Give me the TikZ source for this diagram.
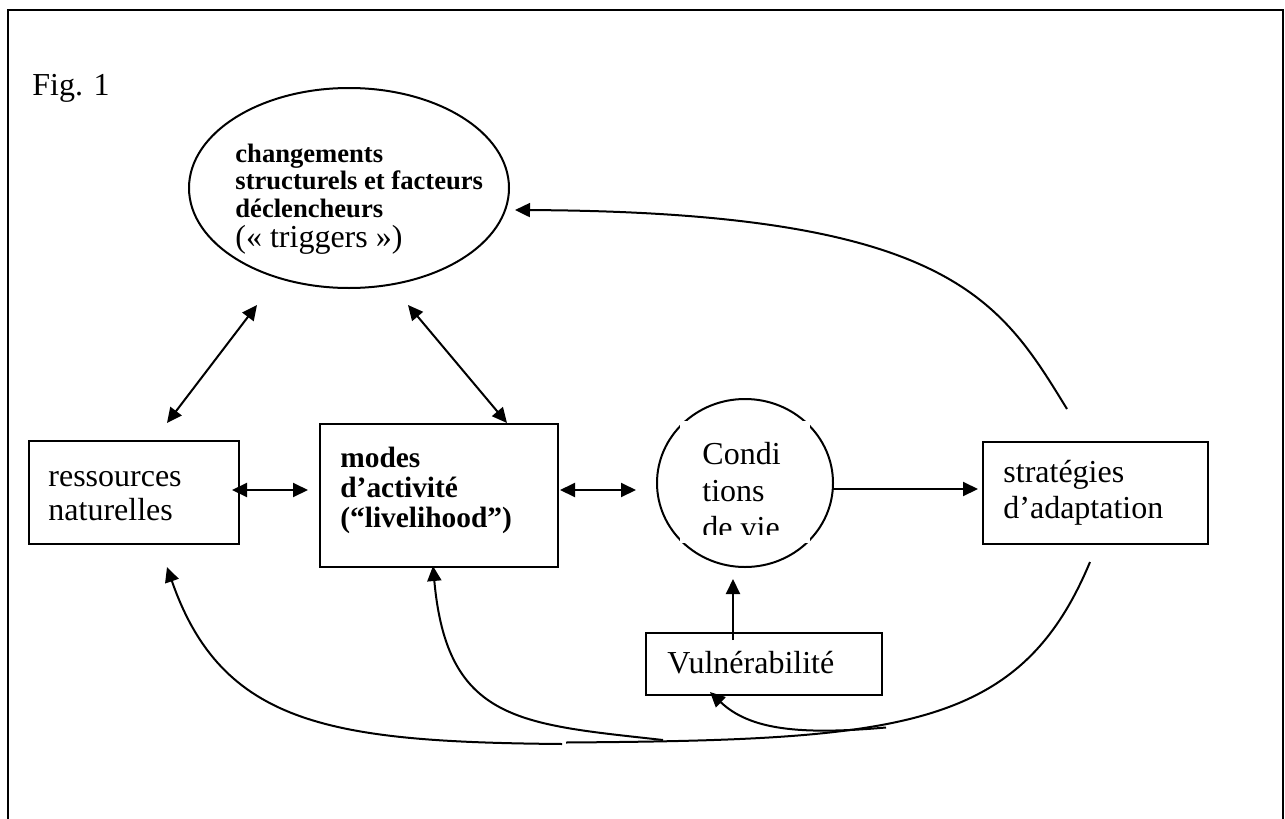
\documentclass[tikz,border=0pt]{standalone}
\usepackage{fontspec}
\setmainfont{Liberation Serif}
\usetikzlibrary{arrows.meta,shapes.geometric}
\newcommand{\mlines}[1]{\begin{tabular}[t]{@{}l@{}}#1\end{tabular}}
\begin{document}
\begin{tikzpicture}[x=0.5pt,y=-0.5pt,
  line/.style={line width=1pt},
  boxst/.style={draw,line width=1pt,rectangle,inner sep=0pt},
  ellst/.style={draw,line width=1pt,ellipse,inner sep=0pt},
  arr/.style={line width=1pt,-{Triangle[length=7.5pt,width=7pt]}},
  darr/.style={line width=1pt,{Triangle[length=7.5pt,width=7pt]}-{Triangle[length=7.5pt,width=7pt]}},
  reg/.style={font=\fontsize{16}{18.3}\selectfont, inner sep=0pt, anchor=base west},
  bld/.style={font=\fontsize{13.3}{13.8}\selectfont\bfseries, inner sep=0pt, anchor=base west},
]
\useasboundingbox (0,0) rectangle (1285,819);
\draw[line width=1.3pt] (8,830) -- (8,10) -- (1283,10) -- (1283,830);

\node[reg] (fig) at (32,95) {Fig. 1};

% shapes
\node[ellst, minimum width=160pt, minimum height=100pt] (trig) at (349,188) {};
\node[boxst, minimum width=105pt, minimum height=51.5pt] (res) at (134,492.5) {};
\node[boxst, minimum width=119pt, minimum height=71.5pt] (modes) at (439,495.5) {};
\node[ellst, minimum width=88pt, minimum height=84pt] (cond) at (745,483) {};
\node[boxst, minimum width=112.5pt, minimum height=51pt] (strat) at (1095.5,493) {};
\node[boxst, minimum width=118pt, minimum height=31pt] (vul) at (764,664) {};

% texts
\node[bld] (trigtext) at (235,162) {\mlines{changements\\ structurels et facteurs\\ déclencheurs\\ \mdseries\fontsize{16}{18}\selectfont (« triggers »)}};
\node[reg, font=\fontsize{16}{17}\selectfont] (restext) at (48,486) {\mlines{ressources\\ naturelles}};
\node[bld, font=\fontsize{14.7}{15}\selectfont\bfseries] (modestext) at (340,467) {\mlines{modes\\ d’activité\\ (“livelihood”)}};
\fill[white] (680,421) rectangle (810,543);
\begin{scope}
\clip (680,421) rectangle (810,534);
\node[reg, font=\fontsize{16}{18.5}\selectfont] (condtext) at (702,464) {\mlines{Condi\\ tions\\ de vie}};
\end{scope}
\node[reg] (strattext) at (1003,482) {\mlines{stratégies\\ d’adaptation}};
\node[reg] (vultext) at (667,673) {Vulnérabilité};

% connector end points
\coordinate (a1s) at (167,423);
\coordinate (a1e) at (257,305);
\coordinate (a2s) at (408,305);
\coordinate (a2e) at (507,423);
\coordinate (a3s) at (232,490);
\coordinate (a3e) at (308,490);
\coordinate (a4s) at (560,490);
\coordinate (a4e) at (636,490);
\coordinate (a5s) at (833,489);
\coordinate (a5e) at (978,489);
\coordinate (a6s) at (733,640);
\coordinate (a6e) at (733,579);
\coordinate (t1s) at (1067,409);
\coordinate (t1e) at (515,210);
\coordinate (Jl) at (562,744);
\coordinate (J) at (566,742.5);
\coordinate (Jm) at (663,740);
\coordinate (Jv) at (886,727.5);
\coordinate (resin) at (167,567);
\coordinate (modin) at (433,566);
\coordinate (vulin) at (710,692);
\coordinate (stout) at (1090,562);

% connectors
\draw[darr] (a1s) -- (a1e);
\draw[darr] (a2s) -- (a2e);
\draw[darr] (a3s) -- (a3e);
\draw[darr] (a4s) -- (a4e);
\draw[arr] (a5s) -- (a5e);
\draw[arr] (a6s) -- (a6e);
\draw[arr] (t1s) .. controls (1000,300) and (950,212) .. (t1e);
\draw[arr] (Jl) .. controls (330,742) and (222,725) .. (resin);
\draw[arr] (Jm) .. controls (520,724) and (447,722) .. (modin);
\draw[line] (J) .. controls (900,740) and (1020,730) .. (stout);
\draw[arr] (Jv) .. controls (800,735) and (750,730) .. (vulin);
\end{tikzpicture}
\end{document}
